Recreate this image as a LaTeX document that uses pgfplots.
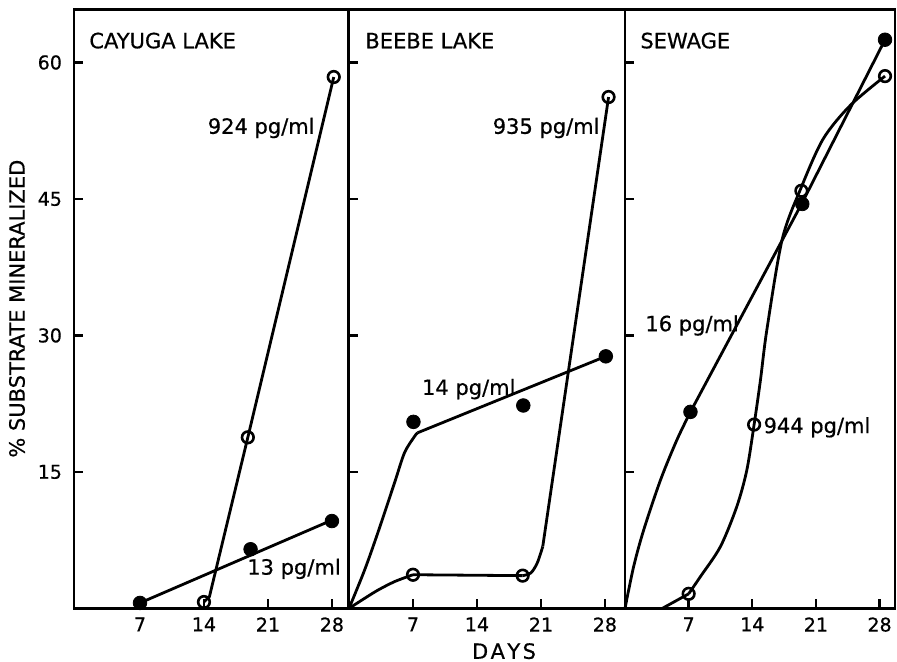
\documentclass[border=0pt]{standalone}
\usepackage{fontspec}
\setmainfont[FakeBold=0.6]{DejaVu Sans}
\usepackage{pgfplots}
\pgfplotsset{compat=1.18}

\pgfplotsset{
  panel/.style={
    scale only axis,
    height=299.35pt,
    ymin=0, ymax=65.8,
    ytick={15,30,45,60},
    xtick={7,14,21,28},
    tick pos=left,
    tick align=inside,
    major tick length=4.5pt,
    axis line style={line width=1.2pt},
    every tick/.style={black, line width=1.2pt},
    tick label style={font=\fontsize{9.5}{11}\selectfont},
    /pgf/number format/assume math mode=true,
    xticklabel style={yshift=-1pt},
    yticklabel style={xshift=-2.5pt},
    clip=false,
  },
  curve/.style={black, line width=1.4pt, mark=none},
  filled/.style={only marks, mark=*, mark size=3.4pt, mark options={fill=black, draw=black}},
  open/.style={only marks, mark=o, mark size=2.9pt, mark options={fill=white, draw=black, line width=1.3pt}},
}
\newcommand{\lab}{\fontsize{10.5}{12}\selectfont}

\begin{document}
\begin{tikzpicture}
\useasboundingbox (-37pt,-26.65pt) rectangle (411.5pt,304.2pt);

% Cayuga Lake
\begin{axis}[panel, at={(0pt,0pt)}, width=137pt, xmin=-0.22, xmax=29.76]
\addplot[curve] coordinates {(7,0.6)(28,9.7)};
\addplot[curve] coordinates {(14,0.7)(14.6,1.3)(18.8,18.8)(28.2,58.4)};
\addplot[filled] coordinates {(7,0.6)(19.1,6.5)(28,9.6)};
\addplot[open] coordinates {(14,0.7)(18.8,18.8)(28.2,58.4)};
\node[anchor=west, inner sep=0, font=\lab] at (axis cs:1.42,62.4) {CAYUGA\ LAKE};
\node[anchor=east, inner sep=0, font=\lab] at (axis cs:26.15,52.8) {924 pg/ml};
\node[anchor=west, inner sep=0, font=\lab] at (axis cs:18.7,4.35) {13 pg/ml};
\end{axis}

% Beebe Lake
\begin{axis}[panel, at={(137.5pt,0pt)}, width=138pt, xmin=0, xmax=30.2, yticklabels={}]
\addplot[curve, smooth] coordinates {(0,0)(1.7,4.2)(3.15,8.3)(4.98,13.8)(6.07,17.1)(7.17,18.9)(7.5,19.3)};
\addplot[curve] coordinates {(7.5,19.3)(28.1,27.7)};
\addplot[curve, smooth] coordinates {(0,0)(1.7,1.1)(3.15,2.0)(5.0,2.95)(7,3.7)};
\addplot[curve] coordinates {(7,3.7)(19,3.6)};
\addplot[curve, smooth] coordinates {(19,3.6)(19.9,3.9)(20.6,5.0)(21.2,6.8)};
\addplot[curve] coordinates {(21.2,6.8)(28.4,56.2)};
\addplot[filled] coordinates {(7.05,20.5)(19.07,22.3)(28.1,27.7)};
\addplot[open] coordinates {(7,3.7)(19,3.6)(28.4,56.2)};
\node[anchor=west, inner sep=0, font=\lab] at (axis cs:1.75,62.4) {BEEBE\ LAKE};
\node[anchor=east, inner sep=0, font=\lab] at (axis cs:27.46,52.8) {935 pg/ml};
\node[anchor=west, inner sep=0, font=\lab] at (axis cs:7.95,24.1) {14 pg/ml};
\end{axis}

% Sewage
\begin{axis}[panel, at={(275.5pt,0pt)}, width=135pt, xmin=0, xmax=29.7, yticklabels={}]
\addplot[curve, smooth] coordinates {(0,0)(0.95,4.6)(2.05,8.6)(3.9,14.1)(5.7,18.5)(7.2,21.6)};
\addplot[curve] coordinates {(7.2,21.6)(19.5,44.6)(28.6,62.5)};
\addplot[curve] coordinates {(4.1,0)(7.0,1.6)};
\addplot[curve, smooth] coordinates {(7.0,1.6)(8.3,3.5)(10.5,6.8)(12.3,11.2)(13.4,15.2)(14.2,20.2)(14.9,25.1)(15.6,30.6)(17.3,40.6)(19.4,46.3)(21.8,51.6)(24.8,55.3)(28.6,58.5)};
\addplot[filled] coordinates {(7.2,21.6)(19.5,44.45)(28.6,62.5)};
\addplot[open] coordinates {(7.0,1.6)(14.2,20.2)(19.4,45.9)(28.6,58.5)};
\node[anchor=west, inner sep=0, font=\lab] at (axis cs:1.65,62.4) {SEWAGE};
\node[anchor=west, inner sep=0, font=\lab] at (axis cs:2.2,31.1) {16 pg/ml};
\node[anchor=west, inner sep=0, font=\lab] at (axis cs:15.2,19.9) {944 pg/ml};
\end{axis}

\node[font=\lab, anchor=base, inner sep=0] at (215pt,-25.2pt) {D\kern1.2pt A\kern1.2pt Y\kern1.2pt S};
\node[font=\lab, rotate=90] at (-28.5pt,149.85pt) {\%\ SUBSTRATE\ MINERALIZED};
\end{tikzpicture}
\end{document}
